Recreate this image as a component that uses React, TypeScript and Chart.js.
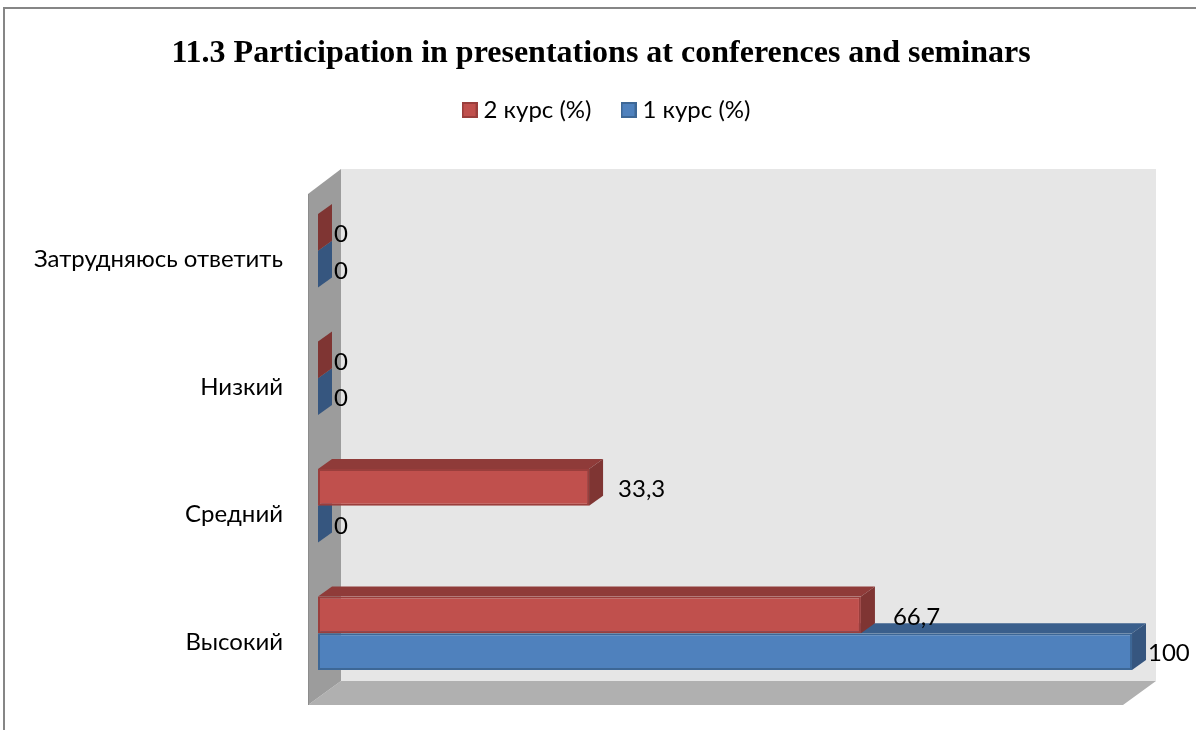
import React, { useEffect, useRef } from "react";
import { Chart, registerables } from "chart.js";

Chart.register(...registerables);

const categories = ["Затрудняюсь ответить", "Низкий", "Средний", "Высокий"];
const course2 = [0, 0, 33.3, 66.7];
const course1 = [0, 0, 0, 100];
const seriesNames = ["2 курс (%)", "1 курс (%)"];
const seriesFill = ["#C0504D", "#4F81BD"];
const seriesEdge = ["#9a3e3c", "#3d6796"];
const titleText = "11.3 Participation in presentations at conferences and seminars";

const SANS = "Lato, Carlito, 'Open Sans', sans-serif";
const DEPTH_X = 14;
const DEPTH_Y = -10;
const AXIS_VALUE_MAX = 107.86;
const LEGEND_NUDGE_X = 8;
const LEGEND_TOP = 63;
const faces = [
  { top: "#8f3b39", side: "#7f3533" },
  { top: "#3a5f8c", side: "#36567f" },
];

function poly(ctx: CanvasRenderingContext2D, pts: number[][], fill: string) {
  ctx.fillStyle = fill;
  ctx.beginPath();
  pts.forEach((p, i) => (i ? ctx.lineTo(p[0], p[1]) : ctx.moveTo(p[0], p[1])));
  ctx.closePath();
  ctx.fill();
}

function labelGap(v: number) {
  if (v <= 0 || v >= 100) return 16;
  return v > 50 ? 32 : 29;
}

function legendIcon(fill: string, edge: string) {
  const c = document.createElement("canvas");
  c.width = 16;
  c.height = 16;
  const g = c.getContext("2d")!;
  g.fillStyle = fill;
  g.fillRect(0, 0, 16, 16);
  g.strokeStyle = edge;
  g.lineWidth = 2;
  g.strokeRect(1, 1, 14, 14);
  return c;
}

const frame3d = {
  id: "frame3d",
  afterLayout(chart: any) {
    const lg = chart.legend;
    const dy = LEGEND_TOP - lg.top;
    lg.left += LEGEND_NUDGE_X;
    lg.right += LEGEND_NUDGE_X;
    lg.top += dy;
    lg.bottom += dy;
  },
  beforeDraw(chart: any) {
    const { ctx, chartArea: a, scales } = chart;
    const x0 = scales.x.getPixelForValue(0);
    const x100 = scales.x.getPixelForValue(100);
    ctx.save();
    // outer frame
    ctx.fillStyle = "#868686";
    ctx.fillRect(3, 7, 2, chart.height - 7);
    ctx.fillRect(3, 7, chart.width - 3, 2);
    const backL = x0 + 23, backR = x100 + 24, backT = a.top - 18, backB = a.bottom - 16;
    const frontL = x0 - 10, frontR = x100 - 9, frontT = a.top + 7, frontB = a.bottom + 8;
    poly(ctx, [[backL, backT], [backR, backT], [backR, backB], [backL, backB]], "#e6e6e6");
    poly(ctx, [[frontL, frontB], [frontR, frontB], [backR, backB], [backL, backB]], "#b0b0b0");
    poly(ctx, [[frontL, frontT], [backL, backT], [backL, backB], [frontL, frontB]], "#9c9c9c");
    ctx.strokeStyle = "#8c8c8c";
    ctx.lineWidth = 1;
    ctx.beginPath();
    ctx.moveTo(frontL + 0.5, frontT);
    ctx.lineTo(frontL + 0.5, frontB);
    ctx.stroke();
    ctx.restore();
  },
  beforeDatasetsDraw(chart: any) {
    const { ctx } = chart;
    ctx.save();
    for (let d = chart.data.datasets.length - 1; d >= 0; d--) {
      chart.getDatasetMeta(d).data.forEach((bar: any) => {
        const top = bar.y - bar.height / 2;
        const bottom = bar.y + bar.height / 2;
        if (bar.x > bar.base) {
          poly(ctx, [[bar.base, top], [bar.x, top], [bar.x + DEPTH_X, top + DEPTH_Y], [bar.base + DEPTH_X, top + DEPTH_Y]], faces[d].top);
        }
        poly(ctx, [[bar.x, top], [bar.x + DEPTH_X, top + DEPTH_Y], [bar.x + DEPTH_X, bottom + DEPTH_Y], [bar.x, bottom]], faces[d].side);
      });
    }
    ctx.restore();
  },
  afterDatasetsDraw(chart: any) {
    const { ctx } = chart;
    ctx.save();
    ctx.fillStyle = "#000";
    ctx.font = "24px " + SANS;
    ctx.textBaseline = "middle";
    ctx.textAlign = "left";
    chart.data.datasets.forEach((ds: any, d: number) => {
      chart.getDatasetMeta(d).data.forEach((bar: any, i: number) => {
        const v = ds.data[i];
        ctx.fillText(String(v).replace(".", ","), bar.x + labelGap(v), bar.y + 2);
      });
    });
    ctx.restore();
  },
};

export default function App() {
  const ref = useRef<HTMLCanvasElement>(null);
  useEffect(() => {
    document.body.style.margin = "0";
    const icons = seriesFill.map((f, i) => legendIcon(f, seriesEdge[i]));
    const chart = new Chart(ref.current!, {
      type: "bar",
      data: {
        labels: categories,
        datasets: [
          { label: seriesNames[0], data: course2, backgroundColor: seriesFill[0], borderColor: seriesEdge[0], borderWidth: 2, borderSkipped: false },
          { label: seriesNames[1], data: course1, backgroundColor: seriesFill[1], borderColor: seriesEdge[1], borderWidth: 2, borderSkipped: false },
        ],
      },
      options: {
        indexAxis: "y",
        responsive: false,
        animation: false,
        layout: { padding: { left: 6, right: 0, top: 0, bottom: 33 } },
        datasets: { bar: { categoryPercentage: 0.576, barPercentage: 1 } },
        scales: {
          x: {
            position: "top",
            min: 0,
            max: AXIS_VALUE_MAX,
            ticks: { display: false },
            grid: { display: false },
            border: { display: false },
            afterFit(s: any) { s.height = 43; },
          },
          y: {
            ticks: { color: "#000", font: { family: SANS, size: 24 }, padding: 35, labelOffset: 9 },
            grid: { display: false, drawTicks: false },
            border: { display: false },
            afterFit(s: any) {
              s.width = 312;
              s.paddingTop = 0;
              s.paddingBottom = 0;
            },
          },
        },
        plugins: {
          title: {
            display: true,
            text: titleText,
            color: "#000",
            font: { family: "'Liberation Serif', serif", size: 32, weight: "bold" },
            padding: { top: 35, bottom: 1.6 },
          },
          legend: {
            display: true,
            position: "top",
            labels: {
              color: "#000",
              font: { family: SANS, size: 24 },
              usePointStyle: true,
              boxWidth: 4,
              boxHeight: 16,
              padding: 35,
              generateLabels(c: any) {
                return Chart.defaults.plugins.legend.labels.generateLabels(c).map((item: any, i: number) => ({ ...item, pointStyle: icons[i] }));
              },
            },
          },
          tooltip: { enabled: false },
        },
      } as any,
      plugins: [frame3d],
    });
    return () => chart.destroy();
  }, []);
  return <canvas ref={ref} width={1196} height={730} style={{ display: "block" }} />;
}
